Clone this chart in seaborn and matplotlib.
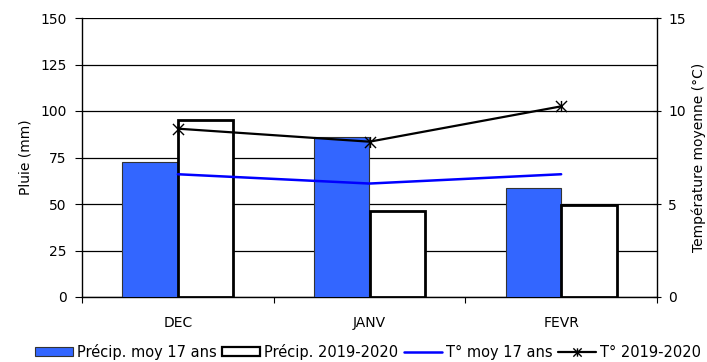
import numpy as np
import pandas as pd
import matplotlib
matplotlib.use("Agg")
import matplotlib.pyplot as plt
from matplotlib.patches import Patch
from matplotlib.lines import Line2D
from matplotlib.path import Path
import seaborn as sns

months = ["DEC", "JANV", "FEVR"]
rain_avg17 = [72.5, 86, 58.5]
rain_2019 = [95, 46, 49.5]
temp_avg17 = [6.6, 6.1, 6.6]
temp_2019 = [9.05, 8.35, 10.25]

series_rain = ["Précip. moy 17 ans", "Précip. 2019-2020"]
series_temp = ["T° moy 17 ans", "T° 2019-2020"]
rain_ticks = [0, 25, 50, 75, 100, 125, 150]
temp_ticks = [0, 5, 10, 15]

BLUE_BAR = "#3366FF"
BLUE_LINE = "#0000FF"
FS = 10

sns.set_theme(style="white")
plt.rcParams["font.family"] = ["DejaVu Sans"]
plt.rcParams["font.size"] = FS
for key in ["text.color", "axes.labelcolor", "xtick.color", "ytick.color"]:
    plt.rcParams[key] = "black"

# star marker: an X crossed by a vertical stroke
star = Path(
    [(-1, -1), (1, 1), (-1, 1), (1, -1), (0, -1), (0, 1)],
    [Path.MOVETO, Path.LINETO, Path.MOVETO, Path.LINETO, Path.MOVETO, Path.LINETO],
)

rain_df = pd.DataFrame({
    "mois": months * 2,
    "pluie": rain_avg17 + rain_2019,
    "serie": [series_rain[0]] * len(months) + [series_rain[1]] * len(months),
})

fig = plt.figure(figsize=(7.07, 3.62), dpi=100)
ax = fig.add_axes([82 / 707, 65 / 362, 575 / 707, 279 / 362])

sns.barplot(
    data=rain_df, x="mois", y="pluie", hue="serie", order=months,
    hue_order=series_rain, palette=[BLUE_BAR, "white"], width=0.58,
    gap=0, legend=False, ax=ax, saturation=1,
)
# edges: thin dark outline on the blue bars, heavy black on the white ones
for patch, face in zip(ax.patches, [BLUE_BAR] * 3 + ["white"] * 3):
    if face == "white":
        patch.set_edgecolor("black")
        patch.set_linewidth(2.0)
    else:
        patch.set_edgecolor("#333333")
        patch.set_linewidth(0.8)
    patch.set_zorder(3)

ax.set_xlim(-0.5, len(months) - 0.5)
ax.set_ylim(rain_ticks[0], rain_ticks[-1])
ax.set_yticks(rain_ticks)
ax.set_ylabel("Pluie (mm)", fontsize=FS, labelpad=6)
ax.set_xlabel("")

ax.yaxis.grid(True, color="black", linewidth=0.9)
ax.set_axisbelow(True)

ax.set_xticks(range(len(months)))
ax.set_xticklabels(months)
ax.set_xticks(np.arange(len(months) + 1) - 0.5, minor=True)
ax.tick_params(axis="x", which="major", length=0, pad=14, labelsize=FS)
ax.tick_params(axis="x", which="minor", length=4, width=0.8, direction="out",
               color="black", bottom=True)
ax.tick_params(axis="y", which="major", length=5, width=0.8, direction="out",
               color="black", left=True, labelsize=FS, pad=6)

for side in ["left", "bottom"]:
    ax.spines[side].set_color("black")
    ax.spines[side].set_linewidth(1.0)
ax.spines["top"].set_visible(False)
ax.spines["right"].set_visible(False)

ax2 = ax.twinx()
x_pos = np.arange(len(months))
sns.lineplot(x=x_pos, y=temp_avg17, color=BLUE_LINE, linewidth=1.8, ax=ax2,
             zorder=4)
sns.lineplot(x=x_pos, y=temp_2019, color="black", linewidth=1.6, marker=star,
             markersize=8, markeredgewidth=1.0, markeredgecolor="black",
             ax=ax2, zorder=5)
ax2.set_ylim(temp_ticks[0], temp_ticks[-1])
ax2.set_yticks(temp_ticks)
ax2.set_ylabel("")
ax2.tick_params(axis="y", which="major", length=6, width=0.8, direction="inout",
                color="black", right=True, labelsize=FS, pad=5)
for side in ["left", "top", "bottom"]:
    ax2.spines[side].set_visible(False)
ax2.spines["right"].set_color("black")
ax2.spines["right"].set_linewidth(1.0)
ax2.set_xlim(-0.5, len(months) - 0.5)

# right-hand axis title, kept against the figure edge
fig.text(699 / 707, 1 - 157 / 362, "Température moyenne (°C)", rotation=90,
         ha="center", va="center", fontsize=FS)

handles = [
    Patch(facecolor=BLUE_BAR, edgecolor="#333333", linewidth=0.8),
    Patch(facecolor="white", edgecolor="black", linewidth=1.6),
    Line2D([], [], color=BLUE_LINE, linewidth=1.8),
    Line2D([], [], color="black", linewidth=1.6, marker=star, markersize=6,
           markeredgewidth=1.0),
]
fig.legend(handles, series_rain + series_temp, loc="center",
           bbox_to_anchor=(368 / 707, 1 - 352 / 362), ncol=4, frameon=False,
           fontsize=10.5, handlelength=2.6, handleheight=0.6, handletextpad=0.3,
           columnspacing=0.35, borderpad=0)

fig.savefig("out.png", dpi=100)
